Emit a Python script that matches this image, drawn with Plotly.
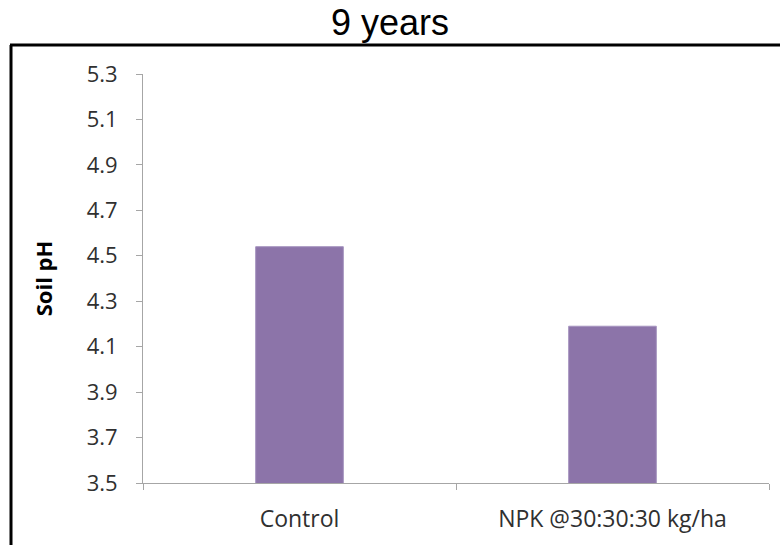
import plotly.graph_objects as go

categories = ["Control", "NPK @30:30:30 kg/ha"]
soil_ph = [4.54, 4.19]
y_ticks = [3.5, 3.7, 3.9, 4.1, 4.3, 4.5, 4.7, 4.9, 5.1, 5.3]

W, H = 780, 545
L, R, T, B = 143, 11, 74, 62
pw, ph = W - L - R, H - T - B

def px_x(px):
    return (px - L) / pw

def px_y(py):
    return (H - B - py) / ph

fig = go.Figure(go.Bar(
    x=categories, y=soil_ph,
    marker=dict(color="#8C74A9", line=dict(color="#A593BF", width=1)),
    width=0.28,
))

fig.update_layout(
    width=W, height=H,
    margin=dict(l=L, r=R, t=T, b=B),
    paper_bgcolor="white", plot_bgcolor="white",
    showlegend=False,
    title=dict(text="9 years", x=0.5, xref="container", xanchor="center",
               y=1 - 22 / H, yref="container", yanchor="middle",
               font=dict(family="Liberation Sans, Arial", size=36, color="black")),
    font=dict(family="Open Sans, sans-serif", color="#262626"),
)

fig.update_yaxes(
    range=[3.5, 5.3], tickvals=y_ticks, ticktext=[f"{v:.1f}" for v in y_ticks],
    showgrid=False, zeroline=False,
    showline=True, linecolor="#A6A6A6", linewidth=1,
    ticks="outside", ticklen=6, tickcolor="#A6A6A6",
    ticklabelstandoff=14,
    tickfont=dict(size=22, color="#303030"),
    title=dict(text="<b>Soil pH</b>", font=dict(size=22, color="black"), standoff=27),
)
fig.update_xaxes(
    showgrid=False, showline=True, linecolor="#A6A6A6", linewidth=1,
    ticks="outside", ticklen=6, tickcolor="#A6A6A6", tickson="boundaries",
    ticklabelstandoff=15,
    tickfont=dict(size=23, color="#303030"),
)

# outer chart frame (partially cut off at right/bottom)
fig.add_shape(type="line", xref="paper", yref="paper",
              x0=px_x(11), x1=px_x(11), y0=px_y(45), y1=px_y(560),
              line=dict(color="black", width=3))
fig.add_shape(type="line", xref="paper", yref="paper",
              x0=px_x(10), x1=px_x(800), y0=px_y(45), y1=px_y(45),
              line=dict(color="black", width=3))

fig.write_html("out.html")
